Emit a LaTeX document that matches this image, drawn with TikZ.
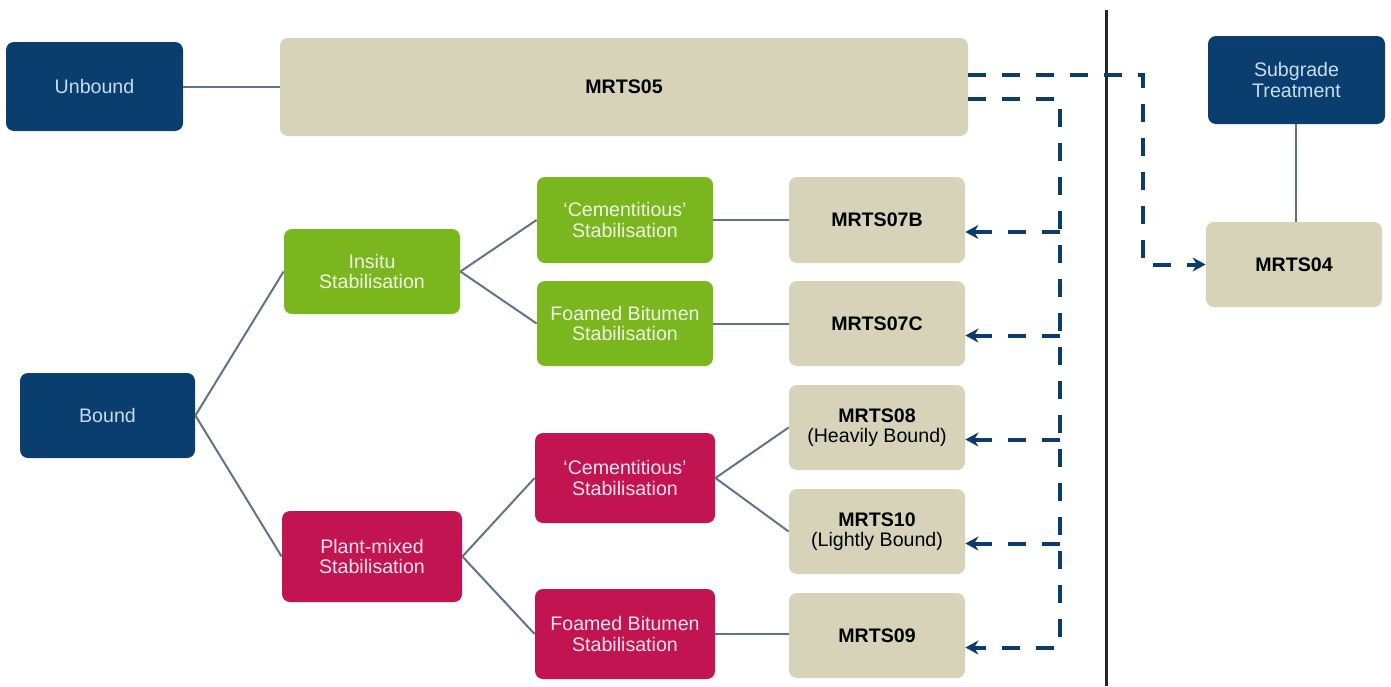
\documentclass[tikz,border=0pt]{standalone}
\usepackage{fontspec}
\setmainfont{Liberation Sans}
\usetikzlibrary{arrows.meta,calc}
\definecolor{navy}{RGB}{10,62,110}
\definecolor{leaf}{RGB}{122,182,30}
\definecolor{berry}{RGB}{193,20,80}
\definecolor{sand}{RGB}{214,211,184}
\definecolor{wire}{RGB}{95,115,140}
\definecolor{dashc}{RGB}{12,60,105}
\definecolor{navytxt}{RGB}{200,220,242}
\definecolor{leaftxt}{RGB}{240,248,228}
\definecolor{berrytxt}{RGB}{248,228,236}
\tikzset{
  box/.style={rectangle, rounded corners=4pt, inner sep=0pt, align=center, font=\fontsize{9.8}{10.2}\selectfont},
  wh/.style 2 args={minimum width=#1*0.5pt, minimum height=#2*0.5pt},
  navybox/.style={box, fill=navy, text=navytxt},
  leafbox/.style={box, fill=leaf, text=leaftxt},
  berrybox/.style={box, fill=berry, text=berrytxt},
  sandbox/.style={box, fill=sand, text=black},
  link/.style={draw=wire, line width=1pt},
  dlink/.style={draw=dashc, line width=2pt, dash pattern=on 9pt off 8pt},
  darr/.style={dlink, -{Stealth[length=6.5pt,width=7pt]}},
}
\begin{document}
\begin{tikzpicture}[x=0.5pt, y=-0.5pt]
\useasboundingbox (0,0) rectangle (1391,686);
% divider
\draw[line width=1.5pt, draw=black!85] (1106,10) -- (1106,686);
% nodes
\node[navybox, wh={177}{89}] (unbound) at (94.5,86.5) {Unbound};
\node[sandbox, wh={688}{98}] (mrts05) at (624,87) {\textbf{MRTS05}};
\node[navybox, wh={177}{88}] (subgrade) at (1296.5,80) {Subgrade\\Treatment};
\node[sandbox, wh={176}{85}] (mrts04) at (1294,264.5) {\textbf{MRTS04}};
\node[navybox, wh={175}{85}] (bound) at (107.5,415.5) {Bound};
\node[leafbox, wh={176}{85}] (insitu) at (372,271.5) {Insitu\\Stabilisation};
\node[leafbox, wh={176}{86}] (gcem) at (625,220) {`Cementitious'\\Stabilisation};
\node[leafbox, wh={176}{85}] (gfoam) at (625,323.5) {Foamed Bitumen\\Stabilisation};
\node[sandbox, wh={176}{86}] (m07b) at (877,220) {\textbf{MRTS07B}};
\node[sandbox, wh={176}{85}] (m07c) at (877,323.5) {\textbf{MRTS07C}};
\node[sandbox, wh={176}{85}] (m08) at (877,427.5) {\textbf{MRTS08}\\(Heavily Bound)};
\node[sandbox, wh={176}{85}] (m10) at (877,531.5) {\textbf{MRTS10}\\(Lightly Bound)};
\node[sandbox, wh={176}{85}] (m09) at (877,635.5) {\textbf{MRTS09}};
\node[berrybox, wh={180}{91}] (plant) at (372,556.5) {Plant-mixed\\Stabilisation};
\node[berrybox, wh={180}{90}] (rcem) at (625,478) {`Cementitious'\\Stabilisation};
\node[berrybox, wh={180}{90}] (rfoam) at (625,634) {Foamed Bitumen\\Stabilisation};
% solid connectors
\draw[link] (unbound.east) -- (unbound.east -| mrts05.west);
\draw[link] (bound.east) -- (insitu.west);
\draw[link] (bound.east) -- (plant.west);
\draw[link] (insitu.east) -- (gcem.west);
\draw[link] (insitu.east) -- (gfoam.west);
\draw[link] (gcem.east) -- (m07b.west);
\draw[link] (gfoam.east) -- (m07c.west);
\draw[link] (plant.east) -- (rcem.west);
\draw[link] (plant.east) -- (rfoam.west);
\draw[link] (rcem.east) -- (m08.west);
\draw[link] (rcem.east) -- (m10.west);
\draw[link] (rfoam.east) -- (rfoam.east -| m09.west);
\draw[link] ([xshift=1pt]mrts04.north) -- ([xshift=1pt]mrts04.north |- subgrade.south);
% dashed connectors
\coordinate (c1) at (1143,264.5);
\coordinate (c2) at (1060,647.5);
\coordinate (b1) at (1060,232);
\coordinate (b2) at (1060,335.5);
\coordinate (b3) at (1060,439.5);
\coordinate (b4) at (1060,543.5);
\draw[darr] ([yshift=6pt]mrts05.east) -| (c1) -- (mrts04.west);
\draw[darr] ([yshift=-6pt]mrts05.east) -| (c2) -- ([yshift=-6pt]m09.east);
\draw[darr] (b1) -- ([yshift=-6pt]m07b.east);
\draw[darr] (b2) -- ([yshift=-6pt]m07c.east);
\draw[darr] (b3) -- ([yshift=-6pt]m08.east);
\draw[darr] (b4) -- ([yshift=-6pt]m10.east);
\end{tikzpicture}
\end{document}
